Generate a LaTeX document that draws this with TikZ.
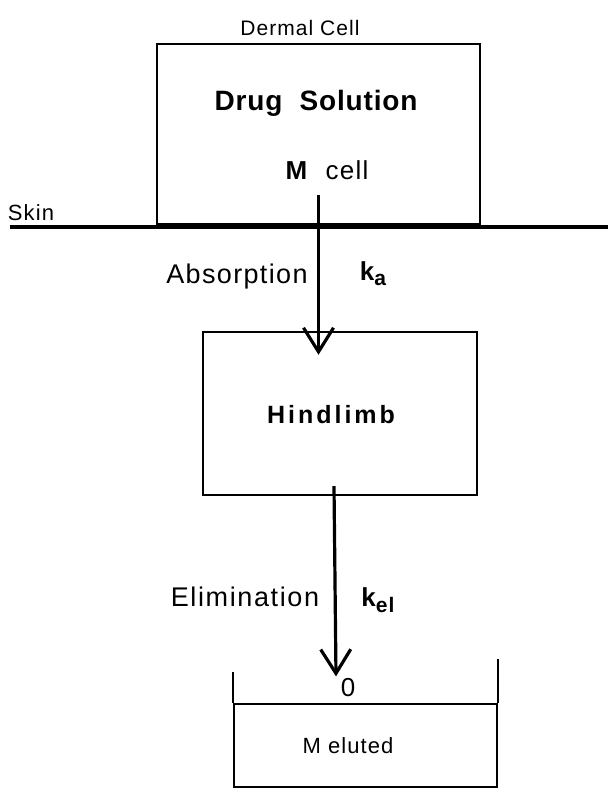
\documentclass[tikz,border=0pt]{standalone}
\usepackage{fontspec}
\setmainfont[LetterSpace=5]{Liberation Sans}
\usepackage{tikz}
\usetikzlibrary{arrows.meta,positioning}

\begin{document}
\begin{tikzpicture}[
    x=0.5pt,y=-0.5pt,
    box/.style={draw,line width=1.2pt,inner sep=0pt},
    arrow/.style={-{Straight Barb[length=12pt,width=15pt,line width=1.6pt]},line width=1.6pt},
    lbl/.style={font=\fontsize{13.5}{15}\selectfont,inner sep=1pt},
    small/.style={font=\fontsize{10.5}{12}\selectfont,inner sep=1pt}
  ]
    \useasboundingbox (0,0) rectangle (608,792);
    % dermal cell above the skin
    \node[box,minimum width=161.5pt,minimum height=90pt] (c) at (318.5,134) {};
    \node[small] (dc) at (300,28) {Dermal Cell};
    \node[lbl,font=\bfseries\fontsize{14}{16}\selectfont\addfontfeatures{LetterSpace=3}] (ds) at (316,103) {Drug\ \ Solution};
    \node[lbl,font=\fontsize{13}{15}\selectfont] (mc) at (327,170) {\textbf{M}\ \ cell};
    % skin
    \node[small,font=\fontsize{11}{13}\selectfont] (sk) at (31,213) {Skin};
    \draw[line width=2.2pt] (10,227) -- (608,227);
    % hindlimb
    \node[box,minimum width=137pt,minimum height=81.5pt] (h) at (340,413.5) {};
    \node[lbl,font=\bfseries\fontsize{12.5}{14}\selectfont\addfontfeatures{LetterSpace=12}] (hl) at (331,415) {Hindlimb};
    \draw[arrow] ([yshift=15pt]c.south) -- ([yshift=-12pt]c.south |- h.north);
    \node[lbl] (ab) at (237,277) {Absorption};
    \node[lbl,font=\bfseries\fontsize{13}{15}\selectfont] (ka) at (373,274) {k\raisebox{-0.35ex}{\fontsize{10.5}{10}\selectfont a}};
    % eluted fraction
    \node[lbl,font=\fontsize{13}{15}\selectfont] (zero) at (348,688) {0};
    \node[box,minimum width=131.5pt,minimum height=41.5pt] (e) at (365.5,745.5) {};
    \node[lbl,font=\fontsize{11}{13}\selectfont] (me) at (348,746) {M eluted};
    \draw[line width=1.2pt] (e.north west) -- ++(0,-31);
    \draw[line width=1.2pt] (e.north east) -- ++(0,-44);
    \draw[arrow] ([xshift=-3pt,yshift=5pt]h.south) -- ([xshift=-6pt]zero.north);
    \node[lbl,font=\fontsize{13.5}{15}\selectfont\addfontfeatures{LetterSpace=6}] (el) at (245,597) {Elimination};
    \node[lbl,font=\bfseries\fontsize{13}{15}\selectfont] (kel) at (378,600) {k\raisebox{-0.45ex}{\fontsize{10.5}{10}\selectfont el}};
  \end{tikzpicture}
\end{document}
